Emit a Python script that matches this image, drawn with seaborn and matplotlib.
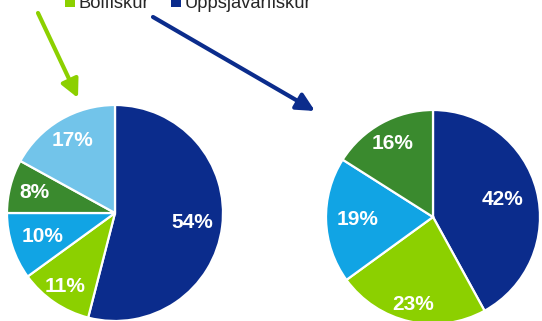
import matplotlib
matplotlib.use("Agg")
import numpy as np
import matplotlib.pyplot as plt
import seaborn as sns
from matplotlib.patches import Patch

sns.set_theme(style="white")
plt.rcParams["font.family"] = ["Liberation Sans", "DejaVu Sans"]

# Catch split, left pie (clockwise from 12 o'clock)
left_labels = ["Uppsjávarfiskur", "Bolfiskur", "Flatfiskur", "Skelfiskur", "Annað"]
left_values = [54, 11, 10, 8, 17]
left_colors = ["#0b2c8c", "#8cd000", "#11a4e4", "#3a8a2e", "#72c4ea"]

# Value split, right pie
right_labels = ["Uppsjávarfiskur", "Bolfiskur", "Flatfiskur", "Skelfiskur"]
right_values = [42, 23, 19, 16]
right_colors = ["#0b2c8c", "#8cd000", "#11a4e4", "#3a8a2e"]

legend_labels = ["Bolfiskur", "Uppsjávarfiskur"]
legend_colors = ["#8cd000", "#0b2c8c"]

# radial placement of the percentage labels (fraction of the radius)
left_label_r = (0.72, 0.82, 0.71, 0.77, 0.78)
right_label_r = (0.67, 0.84, 0.71, 0.78)

W, H = 542, 321
fig = plt.figure(figsize=(W / 100, H / 100), dpi=100)
fig.patch.set_facecolor("white")


def pie_axes(cx, cy, r):
    return fig.add_axes([(cx - r) / W, (H - cy - r) / H, 2 * r / W, 2 * r / H])


def draw_pie(ax, values, colors, label_r):
    wedges, _, autotexts = ax.pie(
        values, colors=colors, startangle=90, counterclock=False, radius=1,
        autopct=lambda p: f"{p:.0f}%", pctdistance=0.75,
        wedgeprops=dict(edgecolor="white", linewidth=1.6),
        textprops=dict(color="white", fontsize=15, fontweight="bold"))
    for w, t, d in zip(wedges, autotexts, label_r):
        a = np.deg2rad((w.theta1 + w.theta2) / 2)
        t.set_position((d * np.cos(a), d * np.sin(a)))
    ax.set_xlim(-1, 1)
    ax.set_ylim(-1, 1)
    ax.set_aspect("equal")
    ax.axis("off")
    return wedges


axl = pie_axes(115, 213, 108)
draw_pie(axl, left_values, left_colors, left_label_r)
axr = pie_axes(433, 217, 107)
draw_pie(axr, right_values, right_colors, right_label_r)

# Overlay for pointer arrows, in pixel units
ov = fig.add_axes([0, 0, 1, 1], zorder=5)
ov.set_xlim(0, W)
ov.set_ylim(H, 0)
ov.axis("off")
ov.patch.set_alpha(0)
ov.annotate("", xy=(78, 98), xytext=(38, 13),
            arrowprops=dict(arrowstyle="-|>,head_length=0.9,head_width=0.45",
                            color="#8cd000", lw=3, shrinkA=0, shrinkB=0))
ov.annotate("", xy=(315, 111), xytext=(153, 17),
            arrowprops=dict(arrowstyle="-|>,head_length=0.9,head_width=0.45",
                            color="#0b2c8c", lw=3, shrinkA=0, shrinkB=0))

handles = [Patch(facecolor=c, edgecolor="none") for c in legend_colors]
fig.legend(handles, legend_labels, loc="lower left",
           bbox_to_anchor=(65 / W, 1 - 12 / H), ncol=2, frameon=False,
           fontsize=13.2, borderpad=0, borderaxespad=0,
           handlelength=0.55, handleheight=0.55, handletextpad=0.2,
           columnspacing=1.2)

fig.savefig("out.png", dpi=100, facecolor="white")
